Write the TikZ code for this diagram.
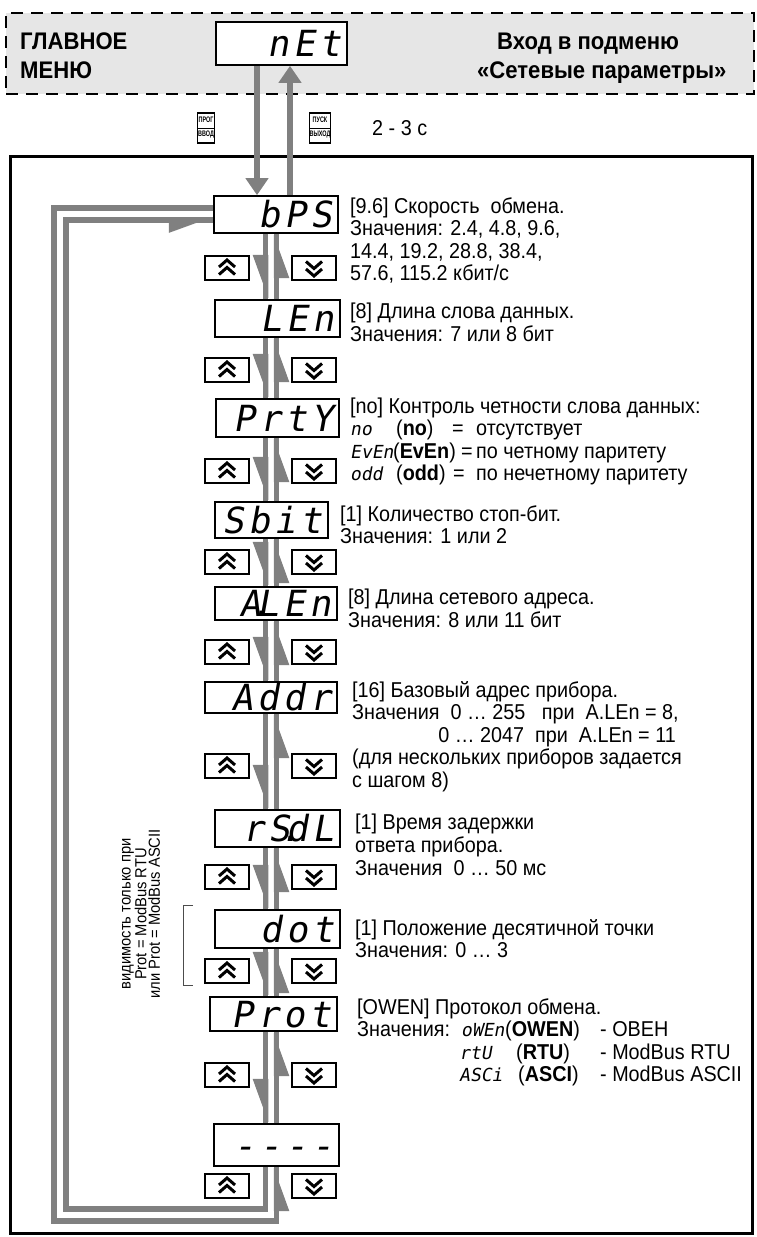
\documentclass[tikz,border=0pt]{standalone}
\usepackage{fontspec}
\setmainfont{Liberation Sans}[FakeStretch=0.92]
\newfontfamily\segfont{DejaVu Sans Mono}[FakeSlant=0.18,LetterSpace=12]
\newfontfamily\segsm{DejaVu Sans Mono}[FakeSlant=0.18]
\newfontfamily\keyfont{Liberation Sans}[FakeStretch=0.68]
\usetikzlibrary{arrows.meta}
\definecolor{lgray}{RGB}{128,128,128}
\definecolor{hdrfill}{RGB}{230,230,230}
\newcommand{\sg}[1]{{\segsm\fontsize{18}{18}\selectfont #1}}
\newcommand{\bx}[1]{(\textbf{#1})}
\tikzset{
  conn/.style={draw=lgray, line width=5.5pt},
  harp/.style={conn, postaction={draw=lgray, line width=5.5pt, -{Triangle[harpoon,swap,length=36pt,width=24pt]}}},
  bigarr/.style={conn, -{Triangle[length=17pt,width=22pt]}},
  disp/.style={draw, fill=white, line width=1.6pt, inner ysep=0pt, inner xsep=6pt, align=right,
     font=\segfont\fontsize{36}{36}\selectfont, text height=26pt, text depth=0pt},
  btn/.style={draw, fill=white, line width=2.5pt, minimum width=44pt, minimum height=24pt, inner sep=0pt},
  chev/.style={line width=3pt, line join=miter},
  btnup/.style={btn, path picture={
     \draw[chev] ([xshift=-8pt,yshift=1pt]path picture bounding box.center) -- ++(8pt,7pt) -- ++(8pt,-7pt);
     \draw[chev] ([xshift=-8pt,yshift=-6.5pt]path picture bounding box.center) -- ++(8pt,7pt) -- ++(8pt,-7pt);}},
  btndn/.style={btn, path picture={
     \draw[chev] ([xshift=-8pt,yshift=6.5pt]path picture bounding box.center) -- ++(8pt,-7pt) -- ++(8pt,7pt);
     \draw[chev] ([xshift=-8pt,yshift=-1pt]path picture bounding box.center) -- ++(8pt,-7pt) -- ++(8pt,7pt);}},
  keybtn/.style={draw, line width=1.1pt, minimum width=17pt, minimum height=30pt, inner sep=0pt,
     font=\keyfont\bfseries\fontsize{8}{14}\selectfont, align=center,
     path picture={\draw[line width=0.8pt] (path picture bounding box.west) -- (path picture bounding box.east);}},
  txt/.style={anchor=north west, inner sep=0pt, align=left, font=\fontsize{21.5}{22.5}\selectfont},
  ln/.style={anchor=base west, inner sep=0pt, font=\fontsize{21.5}{22.5}\selectfont},
  hdrtxt/.style={anchor=base west, inner sep=0pt, font=\bfseries\fontsize{24}{26}\selectfont},
  hdrbox/.style={draw, fill=hdrfill, line width=2.5pt, dash pattern=on 12pt off 8pt, inner sep=0pt},
  frame/.style={draw, line width=3pt, inner sep=0pt},
  bracket/.style={draw=black!70, line width=0.9pt},
}
\begin{document}
\begin{tikzpicture}[x=1pt,y=-1pt]
\useasboundingbox (0,0) rectangle (756,1237);
% header
\node[hdrbox, minimum width=748pt, minimum height=81pt] (hdr) at (380,53.5) {};
\node[hdrtxt] (g1) at (20,49) {ГЛАВНОЕ};
\node[hdrtxt] (g2) at (20,78) {МЕНЮ};
\node[hdrtxt] (r1) at (497,49) {Вход в подменю};
\node[hdrtxt] (r2) at (477,78) {«Сетевые параметры»};
% main frame
\node[frame, minimum width=742pt, minimum height=1077pt] (frame) at (381,694.5) {};
% column coordinates
\coordinate (cd) at (265.5,0);
\coordinate (cu) at (276.5,0);
\coordinate (ax1) at (257,0);
\coordinate (ax2) at (290,0);
\coordinate (iT) at (66,220);
\coordinate (iB) at (66,1209);
\coordinate (oT) at (54,208);
\coordinate (oB) at (54,1221);
% displays
\node[disp, text width=119pt, minimum height=43pt] (nEt) at (281.5,43.5) {nEt};
\node[disp, text width=112pt, minimum height=37pt] (bPS) at (276,214.5) {bPS};
\node[disp, text width=113pt, minimum height=37pt] (LEn) at (277.5,318.5) {LEn};
\node[disp, text width=111pt, minimum height=38pt] (PrtY) at (277.5,418) {PrtY};
\node[disp, text width=101pt, minimum height=36pt] (Sbit) at (271.5,520) {Sbit};
\node[disp, text width=110pt, minimum height=33pt] (ALEn) at (276,603.5) {A{\kern-11pt}.{\kern-15pt}LEn};
\node[disp, text width=120pt, minimum height=31pt] (Addr) at (271,697.5) {Addr};
\node[disp, text width=113pt, minimum height=37pt] (rSdL) at (277.5,828.5) {rS{\kern-11pt}.{\kern-15pt}dL};
\node[disp, text width=113pt, minimum height=38pt] (dot) at (277.5,929) {dot};
\node[disp, text width=115pt, minimum height=34pt] (Prot) at (273.5,1014) {Prot};
\node[disp, text width=113pt, minimum height=42pt] (dash) at (276.5,1145) {----};
% entry arrows
\draw[bigarr] (nEt.south -| ax1) -- (bPS.north -| ax1);
\draw[bigarr] (bPS.north -| ax2) -- (nEt.south -| ax2);
% chain
\foreach \a/\b in {bPS/LEn,LEn/PrtY,PrtY/Sbit,Sbit/ALEn,ALEn/Addr,Addr/rSdL,rSdL/dot,dot/Prot,Prot/dash}{
  \draw[harp] (\a.south -| cd) -- (\b.north -| cd);
  \draw[harp] (\b.north -| cu) -- (\a.south -| cu);
}
% loops
\draw[harp] (dash.south -| cd) -- (cd |- iB) -- (iB) -- (iT) -- (iT -| bPS.west);
\draw[harp] (oT -| bPS.west) -- (oT) -- (oB) -- (oB -| cu) -- (dash.south -| cu);
% buttons
\foreach \i/\y in {1/268,2/370,3/471,4/562,5/652,6/766,7/877,8/971,9/1075,10/1186}{
  \node[btnup] (bu\i) at (227,\y) {};
  \node[btndn] (bd\i) at (314,\y) {};
}
% keys
\node[keybtn] (kprog) at (206,128) {ПРОГ\\ВВОД};
\node[keybtn] (kpusk) at (320,128) {ПУСК\\ВЫХОД};
\node[ln] (tsec) at (372,135) {2 - 3 с};
% texts
\node[txt] (t1) at (350,197.25) {\strut[9.6] Скорость~ обмена.\\Значения: 2.4, 4.8, 9.6,\\14.4, 19.2, 28.8, 38.4,\\57.6, 115.2 кбит/с};
\node[txt] (t2) at (350,302.25) {\strut[8] Длина слова данных.\\Значения: 7 или 8 бит};
\node[ln] (t3) at (350,413) {[no] Контроль четности слова данных:};
\node[ln] (p1a) at (350,435.5) {\sg{no}};
\node[ln] (p1b) at (396,435.5) {\bx{no}};
\node[ln] (p1c) at (452,435.5) {=};
\node[ln] (p1d) at (476,435.5) {отсутствует};
\node[ln] (p2a) at (350,458) {\sg{EvEn}};
\node[ln] (p2b) at (393,458) {\bx{EvEn}};
\node[ln] (p2c) at (461,458) {=};
\node[ln] (p2d) at (476,458) {по четному паритету};
\node[ln] (p3a) at (350,480.5) {\sg{odd}};
\node[ln] (p3b) at (396,480.5) {\bx{odd}};
\node[ln] (p3c) at (453,480.5) {=};
\node[ln] (p3d) at (476,480.5) {по нечетному паритету};
\node[txt] (t4) at (340,505.25) {\strut[1] Количество стоп-бит.\\Значения: 1 или 2};
\node[txt] (t5) at (348,588.25) {\strut[8] Длина сетевого адреса.\\Значения: 8 или 11 бит};
\node[txt] (t6) at (352,681.25) {\strut[16] Базовый адрес прибора.\\Значения~ 0 … 255~~ при~ A.LEn = 8,};
\node[ln, anchor=base east] (t6b) at (676,742) {0 … 2047~ при~ A.LEn = 11};
\node[txt] (t6c) at (352,748.75) {\strut(для нескольких приборов задается\\с шагом 8)};
\node[txt] (t7) at (355,813.25) {\strut[1] Время задержки\\ответа прибора.\\Значения~ 0 … 50 мс};
\node[txt] (t8) at (355,919.25) {\strut[1] Положение десятичной точки\\Значения: 0 … 3};
\node[txt] (t9) at (357,998.25) {\strut[OWEN] Протокол обмена.\\Значения:};
\node[ln] (q1a) at (461,1036.5) {\sg{oWEn}};
\node[ln] (q1b) at (505,1036.5) {\bx{OWEN}};
\node[ln] (q1c) at (600,1036.5) {- ОВЕН};
\node[ln] (q2a) at (459,1059) {\sg{rtU}};
\node[ln] (q2b) at (516,1059) {\bx{RTU}};
\node[ln] (q2c) at (600,1059) {- ModBus RTU};
\node[ln] (q3a) at (459,1081.5) {\sg{ASCi}};
\node[ln] (q3b) at (518,1081.5) {\bx{ASCI}};
\node[ln] (q3c) at (600,1081.5) {- ModBus ASCII};
% note
\node[rotate=90, align=center, inner sep=0pt, font=\fontsize{16}{13.5}\selectfont] (note) at (141,914) {видимость только при\\Prot = ModBus RTU\\или Prot = ModBus ASCII};
\draw[bracket] (193,905) -| (183,985) -- (193,985);
\end{tikzpicture}
\end{document}
